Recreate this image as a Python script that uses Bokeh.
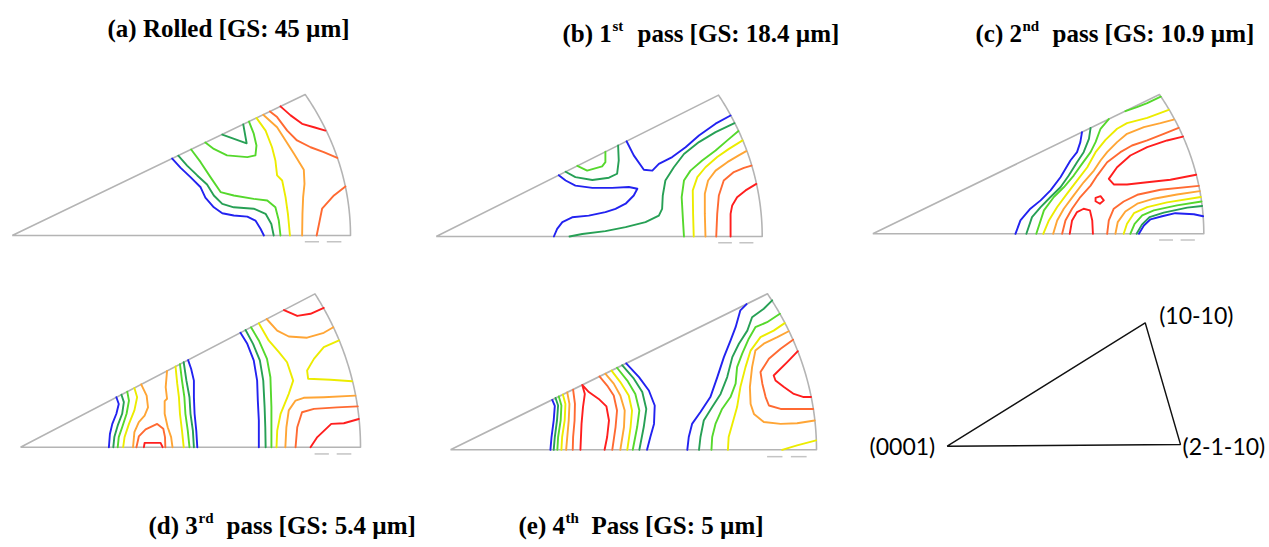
import numpy as np
from bokeh.plotting import figure
from bokeh.models import Range1d, ColumnDataSource
from bokeh.core.properties import value
from bokeh.embed import file_html
from bokeh.resources import INLINE

W, H = 1269, 547

# contour level colours, lowest (blue) to highest (red)
level_colors = {
    "blue": "#2222f0",
    "dkgreen": "#27a055",
    "green": "#55d82c",
    "yellow": "#ecec00",
    "orange": "#ffa535",
    "orangered": "#ff6a32",
    "red": "#ff1e1e",
}

# Contour polylines in sector coordinates: the 30 degree wedge has radius 100,
# (0,0) is the (0001) corner, (100,0) is (2-1-10) and (86.6,50) is (10-10).
rolled_contours = [
    ("blue", [47.3, 49.8, 52.7, 55.7, 57.1, 59.6, 62.1, 65.5, 69.5, 71.9, 73.4, 74.4],
             [27.3, 24.0, 20.7, 17.1, 13.4, 10.0, 7.9, 7.1, 6.7, 5.3, 2.4, 0]),
    ("dkgreen", [49.1, 51.7, 54.7, 57.6, 59.6, 62.1, 65.5, 71.4, 74.9, 76.6, 77.3],
                [28.3, 24.8, 21.3, 18.1, 14.2, 11.2, 10.0, 9.5, 7.7, 4.1, 0]),
    ("green", [52.9, 55.7, 58.6, 61.6, 65.5, 71.4, 75.4, 77.8, 78.8, 79.3],
              [30.5, 26.0, 20.7, 15.4, 14.2, 13.0, 12.4, 10.0, 5.3, 0]),
    ("green", [57.1, 59.6, 63.5, 69.5, 71.9, 72.2, 71.4, 70.0],
              [33.0, 30.7, 28.4, 27.8, 28.4, 31.9, 36.1, 40.4]),
    ("dkgreen", [62.1, 69.3, 68.3], [35.8, 32.7, 39.4]),
    ("yellow", [72.2, 74.9, 76.8, 77.8, 78.3, 79.8, 80.8, 81.5, 82.1],
               [41.7, 37.2, 31.3, 26.6, 21.3, 19.5, 13.6, 7.7, 0]),
    ("orange", [74.2, 78.3, 80.8, 83.3, 86.2, 86.4, 86.0, 85.8, 85.7],
               [42.8, 38.4, 33.7, 29.0, 23.3, 18.3, 13.6, 7.7, 0]),
    ("orangered", [76.2, 78.3, 81.3, 84.2, 88.2, 92.1, 96.1],
                  [44.0, 42.0, 37.2, 33.7, 31.3, 29.6, 27.5]),
    ("red", [79.3, 82.3, 85.7, 89.2, 92.6], [45.8, 42.6, 39.6, 38.4, 37.2]),
    ("orangered", [98.5, 95.1, 91.6, 90.9, 90.0], [17.4, 14.2, 9.5, 5.3, 0]),
]

pass1_contours = [
    ("blue", [37.6, 39.7, 42.7, 47.9, 54.0, 59.1, 61.7, 60.6, 58.1, 55.0, 51.9, 46.8, 41.7, 38.7, 37.1, 36.1],
             [21.7, 19.8, 18.0, 17.2, 17.2, 17.5, 16.9, 14.5, 11.6, 9.8, 8.6, 7.4, 6.8, 5.1, 2.7, 0]),
    ("blue", [58.4, 60.6, 63.7, 66.3, 68.3, 72.4, 76.5, 80.6, 85.7, 90.3],
             [33.7, 28.7, 23.6, 23.3, 25.7, 28.1, 31.6, 35.7, 39.9, 42.8]),
    ("dkgreen", [39.7, 42.7, 47.9, 53.0, 55.5, 56.0, 55.8],
                [22.9, 21.0, 20.0, 20.8, 22.2, 26.9, 32.2]),
    ("green", [43.3, 46.3, 50.9, 51.9, 51.9], [25.0, 23.3, 24.8, 26.3, 30.0]),
    ("dkgreen", [40.9, 44.8, 51.9, 58.1, 64.2, 68.3, 69.3, 69.5, 70.3, 72.9, 76.0, 80.6, 85.7, 91.5],
                [0, 0.9, 1.9, 3.3, 5.1, 7.4, 9.8, 14.5, 19.8, 24.5, 29.2, 33.4, 36.9, 40.1]),
    ("green", [76.0, 75.7, 75.3, 76.0, 78.0, 81.6, 85.7, 89.3, 92.7],
              [0, 5.7, 13.9, 19.8, 23.3, 26.9, 30.4, 34.0, 37.3]),
    ("yellow", [79.0, 78.8, 78.7, 80.1, 82.6, 86.2, 89.8, 94.0],
               [0, 8.0, 16.3, 21.0, 24.5, 28.1, 31.0, 34.0]),
    ("orange", [82.6, 82.4, 82.4, 83.4, 85.7, 89.3, 92.8, 95.1],
               [0, 8.0, 15.1, 19.8, 23.3, 26.3, 28.7, 30.2]),
    ("orangered", [85.9, 86.2, 86.7, 88.2, 91.3, 94.4, 96.7],
                  [0, 8.0, 14.5, 19.8, 22.8, 24.3, 25.1]),
    ("red", [90.3, 90.3, 90.8, 92.3, 94.9, 98.2], [0, 8.0, 11.0, 13.9, 16.3, 18.6]),
]

pass2_contours = [
    ("blue", [63.2, 62.7, 61.7, 59.7, 56.7, 53.7, 50.7, 47.6, 44.6, 43.1],
             [36.5, 32.9, 29.3, 26.3, 20.3, 15.6, 12.0, 9.0, 4.8, 0]),
    ("dkgreen", [65.8, 65.3, 63.7, 61.7, 59.2, 56.7, 53.7, 50.7, 48.1, 46.4],
                [38.0, 34.1, 29.3, 25.7, 20.9, 16.7, 13.2, 9.6, 6.0, 0]),
    ("green", [71.3, 68.8, 67.3, 65.8, 63.2, 60.7, 57.7, 54.7, 51.7, 49.4],
              [41.2, 37.7, 32.9, 29.3, 25.1, 20.9, 16.7, 13.2, 8.4, 0]),
    ("green", [76.3, 79.8, 82.9, 87.0], [44.0, 45.5, 46.9, 49.2]),
    ("yellow", [51.5, 53.2, 55.7, 58.7, 61.7, 64.8, 67.3, 70.3, 73.8, 76.8, 82.9, 89.4],
               [0, 4.8, 9.6, 14.4, 19.1, 23.9, 29.3, 33.7, 37.7, 39.7, 41.6, 44.5]),
    ("orange", [54.5, 55.7, 57.7, 60.7, 63.7, 66.8, 68.8, 70.8, 73.8, 76.8, 81.9, 86.9, 90.9],
               [0, 4.8, 9.0, 13.8, 18.5, 22.7, 26.3, 29.3, 32.9, 35.9, 38.3, 39.7, 41.0]),
    ("orangered", [57.2, 58.2, 60.2, 62.7, 65.8, 67.8, 70.8, 74.8, 78.3, 82.9, 87.9, 92.4],
                  [0, 4.8, 9.0, 13.2, 17.3, 20.9, 25.7, 29.3, 31.7, 33.5, 35.9, 38.0]),
    ("red", [93.7, 88.9, 82.9, 77.8, 73.8, 71.3, 72.8, 76.8, 82.9, 89.9, 97.7],
            [34.9, 33.5, 31.1, 28.1, 23.9, 19.7, 17.7, 17.7, 18.5, 19.4, 21.2]),
    ("red", [67.3, 68.8, 69.8, 68.6, 67.3, 67.3], [12.9, 13.5, 12.0, 10.8, 11.7, 12.9]),
    ("red", [59.5, 60.2, 61.7, 63.7, 65.6, 66.3, 66.5], [0, 4.8, 7.8, 9.0, 8.4, 4.8, 0]),
    ("orangered", [70.8, 71.3, 72.8, 75.8, 79.9, 86.9, 98.5], [0, 4.8, 9.0, 11.6, 14.0, 15.8, 17.2]),
    ("orange", [73.3, 74.0, 76.3, 79.9, 84.9, 91.9, 98.8], [0, 4.2, 8.0, 10.8, 12.6, 14.1, 15.3]),
    ("yellow", [75.8, 76.8, 78.9, 82.9, 88.9, 99.1], [0, 3.6, 7.4, 9.6, 11.3, 13.2]),
    ("green", [77.8, 79.1, 81.4, 84.9, 91.9, 99.3], [0, 3.6, 6.6, 8.4, 10.2, 11.6]),
    ("dkgreen", [79.7, 81.3, 83.6, 87.9, 95.0, 99.5], [0, 3.3, 6.0, 7.6, 9.4, 10.0]),
    ("blue", [80.4, 81.9, 83.9, 87.4, 91.4, 97.0, 99.8], [0, 3.0, 5.2, 6.3, 7.4, 7.0, 6.3]),
]

pass3_contours = [
    ("blue", [28.2, 28.9, 28.2, 27.0, 26.3, 26.0], [16.3, 14.1, 10.9, 7.6, 4.3, 0]),
    ("dkgreen", [29.7, 30.4, 29.9, 28.6, 27.6, 27.3], [17.1, 14.7, 10.9, 7.1, 3.3, 0]),
    ("green", [31.4, 31.9, 31.2, 29.9, 28.9, 28.6], [18.1, 15.2, 10.9, 6.5, 3.3, 0]),
    ("yellow", [33.5, 34.3, 33.5, 31.9, 30.6, 30.2], [19.3, 16.3, 12.0, 7.6, 3.3, 0]),
    ("orange", [35.5, 37.1, 37.5, 36.5, 34.8, 33.5, 33.1], [20.5, 16.8, 13.0, 10.3, 8.2, 4.9, 0]),
    ("orangered", [34.1, 34.8, 36.8, 40.2, 42.0, 42.5, 42.6], [0, 3.5, 5.8, 7.6, 6.0, 3.3, 0]),
    ("red", [36.3, 36.5, 41.2, 41.8], [0, 1.4, 1.4, 0]),
    ("orange", [43.1, 42.7, 43.1, 42.4, 42.4, 43.3, 44.3, 44.7], [24.9, 19.6, 15.8, 15.0, 10.9, 6.5, 3.3, 0]),
    ("yellow", [45.6, 46.1, 46.6, 46.9, 47.5, 48.0], [26.3, 20.7, 16.3, 10.9, 5.4, 0]),
    ("green", [46.9, 47.5, 48.2, 48.5, 49.2, 49.7], [27.1, 21.7, 16.3, 10.9, 5.4, 0]),
    ("dkgreen", [48.0, 48.8, 49.7, 50.0, 50.7, 51.0], [27.7, 21.7, 16.3, 10.9, 5.4, 0]),
    ("blue", [49.3, 50.2, 51.0, 51.0, 51.2, 51.7, 52.0], [28.4, 25.5, 21.7, 16.3, 10.9, 5.4, 0]),
    ("blue", [64.7, 66.7, 68.6, 69.6, 69.8, 70.1, 70.1], [37.3, 33.7, 28.3, 21.7, 15.2, 8.7, 0]),
    ("dkgreen", [66.2, 68.4, 70.4, 71.4, 71.8, 72.0, 72.1], [38.2, 33.7, 28.3, 21.7, 13.0, 6.5, 0]),
    ("green", [67.8, 70.1, 72.5, 73.5, 73.8, 73.8, 73.8], [39.1, 34.8, 28.8, 22.8, 13.0, 6.5, 0]),
    ("yellow", [70.1, 73.0, 76.0, 78.4, 80.2, 78.9, 76.5, 75.5, 75.3],
               [40.4, 34.8, 31.0, 27.7, 21.7, 17.4, 10.9, 5.4, 0]),
    ("orange", [72.4, 75.5, 78.9, 84.3, 89.2, 92.0], [41.8, 38.0, 36.1, 35.7, 37.3, 39.1]),
    ("red", [77.5, 81.4, 85.3, 89.2], [44.7, 42.8, 43.5, 45.4]),
    ("yellow", [93.7, 89.2, 86.3, 84.3, 84.6, 91.2, 97.5], [34.8, 32.6, 28.8, 25.0, 22.3, 22.0, 21.5]),
    ("orange", [77.9, 78.2, 78.9, 80.9, 83.3, 89.2, 98.5], [0, 6.5, 12.0, 15.2, 16.1, 16.3, 16.8]),
    ("orangered", [80.9, 81.4, 82.8, 86.3, 93.1, 99.2], [0, 6.5, 11.4, 12.5, 13.0, 13.3]),
    ("red", [85.3, 87.3, 91.4, 95.1, 99.5], [0, 3.3, 7.6, 7.8, 9.2]),
]

pass4_contours = [
    ("blue", [27.8, 28.5, 28.2, 27.6, 27.3], [16.0, 14.1, 9.4, 4.1, 0]),
    ("dkgreen", [28.7, 29.4, 29.1, 28.5, 28.2], [16.6, 14.2, 9.4, 4.1, 0]),
    ("green", [29.6, 30.3, 30.1, 29.4, 29.2], [17.1, 14.2, 9.4, 4.1, 0]),
    ("yellow", [30.7, 31.4, 31.2, 30.5, 30.3], [17.7, 14.7, 9.4, 4.1, 0]),
    ("orange", [31.9, 32.5, 32.3, 31.9, 31.6], [18.4, 14.7, 9.4, 4.1, 0]),
    ("orangered", [33.5, 34.0, 33.9, 33.5, 33.4], [19.3, 14.7, 9.4, 4.1, 0]),
    ("red", [35.5, 35.8, 36.2, 36.7, 36.0, 37.8, 40.5, 42.6, 43.3, 42.8, 42.1],
            [0, 8.3, 13.7, 17.9, 20.8, 18.5, 16.3, 13.9, 9.4, 4.1, 0]),
    ("orangered", [40.7, 42.8, 44.6, 45.5, 45.1, 44.2], [23.5, 20.6, 17.4, 12.6, 7.3, 0]),
    ("orange", [42.3, 44.6, 46.4, 47.6, 47.4, 46.4], [24.4, 21.2, 17.4, 12.6, 7.3, 0]),
    ("yellow", [44.0, 46.4, 48.7, 49.6, 49.2, 48.3], [25.4, 21.7, 17.4, 12.6, 7.3, 0]),
    ("green", [45.5, 48.3, 50.5, 51.6, 51.0, 49.8], [26.3, 22.2, 17.9, 12.6, 7.3, 0]),
    ("dkgreen", [46.9, 50.1, 52.4, 53.5, 52.8, 51.6], [27.1, 22.8, 18.5, 13.1, 7.3, 0]),
    ("blue", [48.0, 51.5, 54.2, 55.8, 55.6, 54.6, 53.7], [27.7, 23.3, 19.0, 14.2, 8.3, 4.1, 0]),
    ("blue", [80.9, 79.2, 77.9, 76.5, 74.7, 72.9, 71.0, 68.3, 66.0, 65.1, 64.7],
             [46.7, 44.7, 39.3, 35.0, 29.7, 23.3, 16.9, 12.1, 8.3, 4.1, 0]),
    ("dkgreen", [87.9, 85.6, 82.4, 81.1, 78.8, 77.0, 75.6, 73.8, 71.5, 69.2, 68.3, 67.9],
                [47.9, 45.2, 42.5, 38.2, 34.0, 29.7, 23.3, 17.9, 13.7, 9.4, 4.1, 0]),
    ("green", [90.0, 86.5, 83.3, 81.5, 79.7, 78.3, 77.9, 76.5, 74.2, 72.4, 71.5, 71.3],
              [43.6, 40.9, 39.3, 35.6, 30.8, 26.5, 21.2, 16.9, 13.1, 8.3, 4.1, 0]),
    ("yellow", [91.3, 88.3, 84.7, 82.0, 80.6, 79.2, 78.3, 77.0, 76.0, 75.8],
               [40.6, 38.2, 36.1, 31.8, 26.5, 20.1, 13.7, 8.3, 4.1, 0]),
    ("orange", [92.4, 89.3, 85.6, 83.3, 82.4, 81.8, 82.0, 82.9, 85.6, 90.2, 94.7, 99.5],
               [38.0, 36.1, 34.0, 31.8, 26.5, 20.1, 14.7, 11.5, 8.9, 8.3, 8.5, 9.4]),
    ("orangered", [93.6, 90.2, 87.0, 84.7, 85.2, 86.1, 87.0, 90.2, 94.7, 99.1],
                  [35.3, 32.4, 29.2, 24.9, 21.2, 16.9, 14.2, 13.1, 13.1, 13.1]),
    ("red", [94.9, 92.0, 88.3, 88.8, 91.1, 93.8, 96.5, 98.5],
            [31.6, 28.1, 23.8, 22.2, 20.1, 17.9, 16.9, 16.9]),
    ("yellow", [90.6, 94.7, 99.9], [0, 1.4, 3.0]),
]

# placement of each wedge on the page: (0001) corner position and the
# horizontal / vertical size of a radius of 100
panels = [
    dict(contours=rolled_contours, ax=11.7, ay=235.0, rx=338.3, ry=282.0),
    dict(contours=pass1_contours, ax=435.7, ay=236.0, rx=326.0, ry=282.7),
    dict(contours=pass2_contours, ax=872.3, ay=233.3, rx=331.0, ry=278.6),
    dict(contours=pass3_contours, ax=20.0, ay=446.7, rx=340.0, ry=306.7),
    dict(contours=pass4_contours, ax=450.0, ay=449.3, rx=366.0, ry=312.0),
]

# panel captions: lead text, ordinal suffix, remainder
captions = [
    ("(a) Rolled [GS: 45 \u00b5m]", "", ""),
    ("(b) 1", "st", "pass [GS: 18.4 \u00b5m]"),
    ("(c) 2", "nd", "pass [GS: 10.9 \u00b5m]"),
    ("(d) 3", "rd", "pass [GS: 5.4 \u00b5m]"),
    ("(e) 4", "th", "Pass [GS: 5 \u00b5m]"),
]
# caption anchors: x of lead, x of suffix, x of remainder, vertical centre
caption_pos = [
    (107, 0, 0, 28),
    (562, 612, 637, 33),
    (975, 1022, 1052, 33),
    (148, 198, 226, 525),
    (518, 565, 591, 525),
]

# key triangle
key_labels = ["(0001)", "(2-1-10)", "(10-10)"]
key_x = [946.7, 1180.0, 1144.7]
key_y = [445.7, 444.0, 322.3]

p = figure(width=W, height=H, x_range=Range1d(0, W), y_range=Range1d(H, 0),
           output_backend="svg", toolbar_location=None, min_border=0)
p.xaxis.visible = False
p.yaxis.visible = False
p.grid.visible = False
p.outline_line_color = None
p.background_fill_color = "white"
p.border_fill_color = "white"

t = np.radians(np.linspace(0, 30, 91))
frame_x = np.concatenate([[0.0, 100.0], 100 * np.cos(t), [0.0]])
frame_y = np.concatenate([[0.0, 0.0], 100 * np.sin(t), [0.0]])

for pan in panels:
    def px(x, pan=pan):
        return pan["ax"] + np.asarray(x, dtype=float) / 100.0 * pan["rx"]

    def py(y, pan=pan):
        return pan["ay"] - np.asarray(y, dtype=float) / 100.0 * pan["ry"]

    p.line(px(frame_x), py(frame_y), line_color="#b4b4b4", line_width=1.6,
           line_join="round")
    # scale-bar dashes below the (2-1-10) corner
    p.multi_line([list(px([86.5, 90.7])), list(px([93.0, 97.3]))],
                 [list(py([-2.2, -2.2])), list(py([-2.2, -2.2]))],
                 line_color="#c4c4c4", line_width=1.5)
    src = ColumnDataSource(dict(
        xs=[list(px(c[1])) for c in pan["contours"]],
        ys=[list(py(c[2])) for c in pan["contours"]],
        color=[level_colors[c[0]] for c in pan["contours"]],
    ))
    p.multi_line("xs", "ys", source=src, line_color="color", line_width=1.9,
                 line_join="round", line_cap="round")

# captions
serif = value("Liberation Serif")
for (lead, sup, rest), (x0, x1, x2, yc) in zip(captions, caption_pos):
    p.text(x=[x0], y=[yc], text=[lead], text_font=serif, text_font_style="bold",
           text_font_size="25px", text_baseline="middle", text_align="left",
           text_color="black")
    if sup:
        p.text(x=[x1], y=[yc - 8], text=[sup], text_font=serif, text_font_style="bold",
               text_font_size="15px", text_baseline="middle", text_align="left",
               text_color="black")
        p.text(x=[x2], y=[yc], text=[rest], text_font=serif, text_font_style="bold",
               text_font_size="25px", text_baseline="middle", text_align="left",
               text_color="black")

# key triangle and its corner labels
p.patch(key_x, key_y, fill_color=None, line_color="#111111", line_width=1.4)
sans = value("Lato")
p.text(x=[key_x[0] - 12], y=[key_y[0]], text=[key_labels[0]], text_font=sans,
       text_font_size="23px", text_baseline="middle", text_align="right",
       text_color="black")
p.text(x=[key_x[1] + 2], y=[key_y[1] + 1], text=[key_labels[1]], text_font=sans,
       text_font_size="23px", text_baseline="middle", text_align="left",
       text_color="black")
p.text(x=[key_x[2] + 14], y=[key_y[2] - 8], text=[key_labels[2]], text_font=sans,
       text_font_size="23px", text_baseline="middle", text_align="left",
       text_color="black")

open("out.html", "w").write(file_html(p, INLINE))
